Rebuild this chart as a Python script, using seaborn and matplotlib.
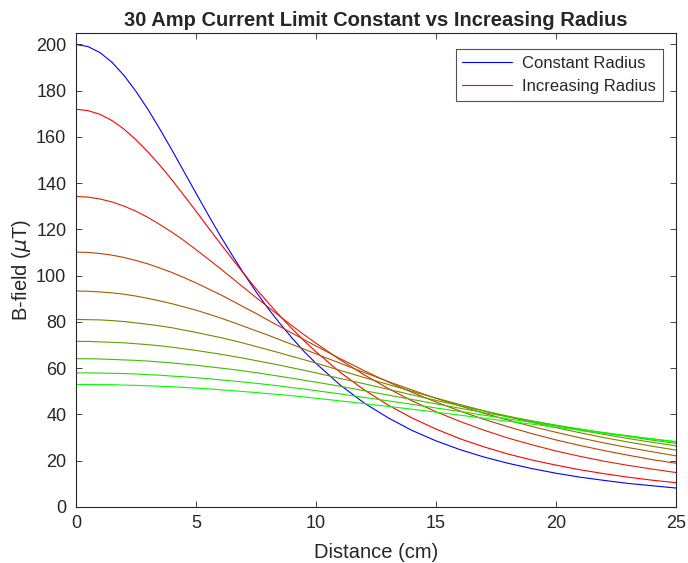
import numpy as np
import pandas as pd
import seaborn as sns
import matplotlib.pyplot as plt

# distance along the axis (cm)
distance = [0, 0.5, 1, 1.5, 2, 2.5, 3, 3.5, 4, 4.5, 5, 5.5, 6, 6.5, 7, 7.5, 8, 8.5, 9, 9.5, 10,
            11, 12, 13, 14, 15, 16, 17, 18, 19, 20, 21, 22, 23, 24, 25]

# B-field (uT), constant radius coil
constant_radius = [200, 199.1, 196.5, 192.3, 186.6, 179.7, 171.9, 163.3, 154.3, 145.0, 135.7,
                   126.5, 117.5, 109.0, 100.8, 93.1, 85.9, 79.3, 73.1, 67.3, 62.1,
                   52.8, 45.0, 38.6, 33.1, 28.6, 24.8, 21.6, 18.9, 16.6, 14.6, 12.9, 11.5, 10.2, 9.2, 8.2]

# B-field (uT), coils of increasing radius (smallest radius first)
increasing_1 = [172.0, 171.4, 169.8, 167.1, 163.4, 158.8, 153.5, 147.7, 141.4, 134.7, 127.9,
                121.0, 114.1, 107.4, 100.8, 94.4, 88.4, 82.6, 77.1, 71.9, 67.1,
                58.3, 50.7, 44.1, 38.5, 33.7, 29.5, 26.0, 22.9, 20.3, 18.1, 16.1, 14.4, 12.9, 11.6, 10.5]
increasing_2 = [134.3, 134.0, 133.2, 131.9, 130.1, 127.9, 125.2, 122.1, 118.8, 115.2, 111.3,
                107.3, 103.2, 99.0, 94.8, 90.6, 86.5, 82.4, 78.4, 74.5, 70.8,
                63.7, 57.2, 51.3, 45.9, 41.2, 37.0, 33.2, 29.8, 26.9, 24.2, 21.9, 19.8, 18.0, 16.4, 14.9]
increasing_3 = [110.2, 110.1, 109.6, 108.9, 107.9, 106.6, 105.1, 103.3, 101.4, 99.2, 96.9,
                94.4, 91.9, 89.2, 86.4, 83.7, 80.8, 78.0, 75.2, 72.4, 69.6,
                64.2, 59.0, 54.1, 49.6, 45.4, 41.5, 37.9, 34.7, 31.7, 29.0, 26.6, 24.4, 22.4, 20.5, 18.9]
increasing_4 = [93.4, 93.3, 93.0, 92.6, 92.0, 91.2, 90.2, 89.1, 87.9, 86.5, 85.1,
                83.5, 81.8, 80.0, 78.1, 76.2, 74.3, 72.3, 70.3, 68.3, 66.2,
                62.2, 58.2, 54.3, 50.6, 47.0, 43.7, 40.5, 37.6, 34.8, 32.3, 29.9, 27.7, 25.7, 23.9, 22.1]
increasing_5 = [81.1, 81.0, 80.9, 80.6, 80.2, 79.6, 79.0, 78.3, 77.5, 76.5, 75.5,
                74.4, 73.3, 72.1, 70.8, 69.4, 68.0, 66.6, 65.1, 63.7, 62.2,
                59.1, 56.0, 53.0, 50.0, 47.1, 44.3, 41.6, 39.0, 36.6, 34.3, 32.1, 30.0, 28.1, 26.3, 24.6]
increasing_6 = [71.6, 71.6, 71.4, 71.2, 71.0, 70.6, 70.2, 69.7, 69.1, 68.4, 67.7,
                66.9, 66.1, 65.2, 64.3, 63.3, 62.3, 61.3, 60.2, 59.1, 58.0,
                55.6, 53.3, 50.9, 48.5, 46.1, 43.8, 41.5, 39.3, 37.2, 35.2, 33.2, 31.4, 29.6, 28.0, 26.4]
increasing_7 = [64.1, 64.1, 64.0, 63.8, 63.6, 63.4, 63.1, 62.7, 62.3, 61.8, 61.3,
                60.7, 60.1, 59.5, 58.8, 58.1, 57.3, 56.5, 55.7, 54.8, 54.0,
                52.2, 50.3, 48.4, 46.5, 44.6, 42.7, 40.8, 39.0, 37.2, 35.4, 33.7, 32.0, 30.5, 28.9, 27.5]
increasing_8 = [58.0, 58.0, 57.9, 57.8, 57.7, 57.5, 57.2, 57.0, 56.6, 56.3, 55.9,
                55.5, 55.0, 54.5, 54.0, 53.5, 52.9, 52.3, 51.6, 51.0, 50.3,
                48.9, 47.4, 45.9, 44.4, 42.8, 41.3, 39.7, 38.1, 36.6, 35.1, 33.6, 32.2, 30.8, 29.4, 28.1]
increasing_9 = [53.0, 53.0, 52.9, 52.9, 52.7, 52.6, 52.4, 52.2, 52.0, 51.7, 51.4,
                51.1, 50.7, 50.3, 49.9, 49.5, 49.0, 48.6, 48.1, 47.6, 47.0,
                45.9, 44.7, 43.5, 42.3, 41.0, 39.7, 38.4, 37.1, 35.8, 34.5, 33.2, 31.9, 30.7, 29.5, 28.3]

increasing = [increasing_1, increasing_2, increasing_3, increasing_4, increasing_5,
              increasing_6, increasing_7, increasing_8, increasing_9]

# red -> green colour ramp
n = len(increasing)
colors = [(1 - i / (n - 1), i / (n - 1), 0) for i in range(n)]

sns.set_style('ticks')
plt.rcParams['font.family'] = ['Liberation Sans', 'DejaVu Sans']
plt.rcParams['axes.edgecolor'] = '#262626'
plt.rcParams['xtick.color'] = '#262626'
plt.rcParams['ytick.color'] = '#262626'

fig = plt.figure(figsize=(6.88, 5.63), dpi=100)
ax = fig.add_axes([0.1105, 0.0995, 0.872, 0.842])

sns.lineplot(x=distance, y=constant_radius, color=(0, 0, 1), lw=0.8,
             label='Constant Radius', ax=ax)
for i, series in enumerate(increasing):
    sns.lineplot(x=distance, y=series, color=colors[i], lw=0.8,
                 label='Increasing Radius' if i == 0 else None, ax=ax)

ax.set_xlim(0, 25)
ax.set_ylim(0, 205)
ax.set_xticks(range(0, 26, 5))
ax.set_yticks(range(0, 201, 20))
ax.tick_params(direction='in', top=True, right=True, length=4, width=0.6,
               labelsize=13, colors='#262626')
ax.tick_params(axis='y', pad=7)
ax.tick_params(axis='x', pad=6)
for s in ax.spines.values():
    s.set_visible(True)
    s.set_linewidth(0.8)

ax.set_xlabel('Distance (cm)', fontsize=14.5, color='#262626', labelpad=8)
ax.set_ylabel(r'B-field ($\mu$T)', fontsize=14.5, color='#262626', labelpad=2)
ax.set_title('30 Amp Current Limit Constant vs Increasing Radius',
             fontsize=14.5, fontweight='bold', pad=5)

leg = ax.legend(loc='upper right', bbox_to_anchor=(0.978, 0.966), borderaxespad=0,
                fontsize=12, frameon=True, fancybox=False, edgecolor='#262626',
                handlelength=3.0, handletextpad=0.6)
leg.get_frame().set_linewidth(0.8)

fig.savefig('out.png', dpi=100)
